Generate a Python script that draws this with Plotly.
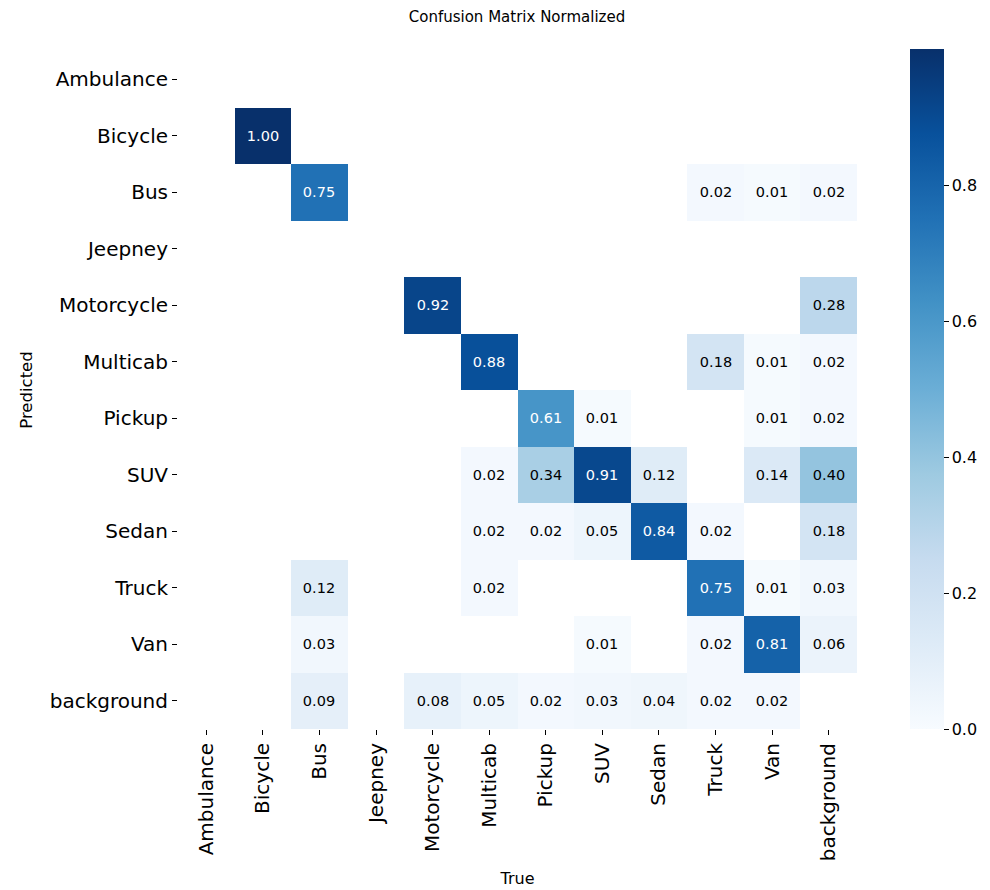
import plotly.graph_objects as go
import plotly.colors as pc

classes = ["Ambulance", "Bicycle", "Bus", "Jeepney", "Motorcycle", "Multicab",
           "Pickup", "SUV", "Sedan", "Truck", "Van", "background"]

N = None
# rows: predicted class, columns: true class (normalized per column)
row_ambulance  = [N, N, N, N, N, N, N, N, N, N, N, N]
row_bicycle    = [N, 1.00, N, N, N, N, N, N, N, N, N, N]
row_bus        = [N, N, 0.75, N, N, N, N, N, N, 0.02, 0.01, 0.02]
row_jeepney    = [N, N, N, N, N, N, N, N, N, N, N, N]
row_motorcycle = [N, N, N, N, 0.92, N, N, N, N, N, N, 0.28]
row_multicab   = [N, N, N, N, N, 0.88, N, N, N, 0.18, 0.01, 0.02]
row_pickup     = [N, N, N, N, N, N, 0.61, 0.01, N, N, 0.01, 0.02]
row_suv        = [N, N, N, N, N, 0.02, 0.34, 0.91, 0.12, N, 0.14, 0.40]
row_sedan      = [N, N, N, N, N, 0.02, 0.02, 0.05, 0.84, 0.02, N, 0.18]
row_truck      = [N, N, 0.12, N, N, 0.02, N, N, N, 0.75, 0.01, 0.03]
row_van        = [N, N, 0.03, N, N, N, N, 0.01, N, 0.02, 0.81, 0.06]
row_background = [N, N, 0.09, N, 0.08, 0.05, 0.02, 0.03, 0.04, 0.02, 0.02, N]

z = [row_ambulance, row_bicycle, row_bus, row_jeepney, row_motorcycle,
     row_multicab, row_pickup, row_suv, row_sedan, row_truck, row_van,
     row_background]

# dark cells get white labels, light cells black labels
THRESH = 0.5
text_dark = [["" if v is None or v >= THRESH else f"{v:.2f}" for v in r] for r in z]
z_light = [[v if v is not None and v >= THRESH else None for v in r] for r in z]

blues = pc.sequential.Blues
colorscale = [[i / (len(blues) - 1), c] for i, c in enumerate(blues)]
clear = [[0, "rgba(0,0,0,0)"], [1, "rgba(0,0,0,0)"]]

FONT = "DejaVu Sans"

# plot area geometry (pixels)
W, H = 990, 890
ML, MR, MT, MB = 178, 20, 51, 161
PW = W - ML - MR
x_end = (857 - ML) / PW
cb_x = (910 - ML) / PW

fig = go.Figure()
fig.add_trace(go.Heatmap(
    z=z, x=classes, y=classes,
    zmin=0.0, zmax=1.0,
    colorscale=colorscale,
    text=text_dark,
    texttemplate="%{text}",
    textfont=dict(family=FONT, size=14.5, color="#000"),
    hoverongaps=False,
    colorbar=dict(
        thickness=34, lenmode="pixels", len=680,
        x=cb_x, xanchor="left", xpad=0,
        y=0, yanchor="bottom", ypad=0,
        outlinewidth=0,
        tickvals=[0, 0.2, 0.4, 0.6, 0.8],
        ticktext=["0.0", "0.2", "0.4", "0.6", "0.8"],
        ticks="outside", ticklen=5, tickcolor="#000",
        tickfont=dict(family=FONT, size=16, color="#000"),
    ),
))
fig.add_trace(go.Heatmap(
    z=z_light, x=classes, y=classes,
    zmin=0.0, zmax=1.0,
    colorscale=clear, showscale=False,
    texttemplate="%{z:.2f}",
    textfont=dict(family=FONT, size=14.5, color="#fff"),
    hoverinfo="skip",
))

fig.update_layout(
    width=W, height=H,
    margin=dict(l=ML, r=MR, t=MT, b=MB, autoexpand=False),
    paper_bgcolor="white", plot_bgcolor="white",
    title=dict(text="Confusion Matrix Normalized", x=(517 - ML) / PW, xref="paper",
               xanchor="center", y=1 - 17 / H, yanchor="middle",
               font=dict(family=FONT, size=15, color="#000")),
    font=dict(family=FONT, color="#000"),
)
fig.update_xaxes(
    type="category", domain=[0, x_end], tickangle=-90, automargin=False,
    showgrid=False, zeroline=False,
    ticks="outside", ticklen=5, tickcolor="#000",
    tickfont=dict(size=20, color="#000"),
    title=dict(text="True", font=dict(size=16), standoff=12),
)
fig.update_yaxes(
    type="category", autorange="reversed", automargin=False,
    showgrid=False, zeroline=False,
    ticks="outside", ticklen=5, tickcolor="#000",
    tickfont=dict(size=20, color="#000"),
    title=dict(text="Predicted", font=dict(size=16.5), standoff=12),
)

fig.write_html("out.html")
